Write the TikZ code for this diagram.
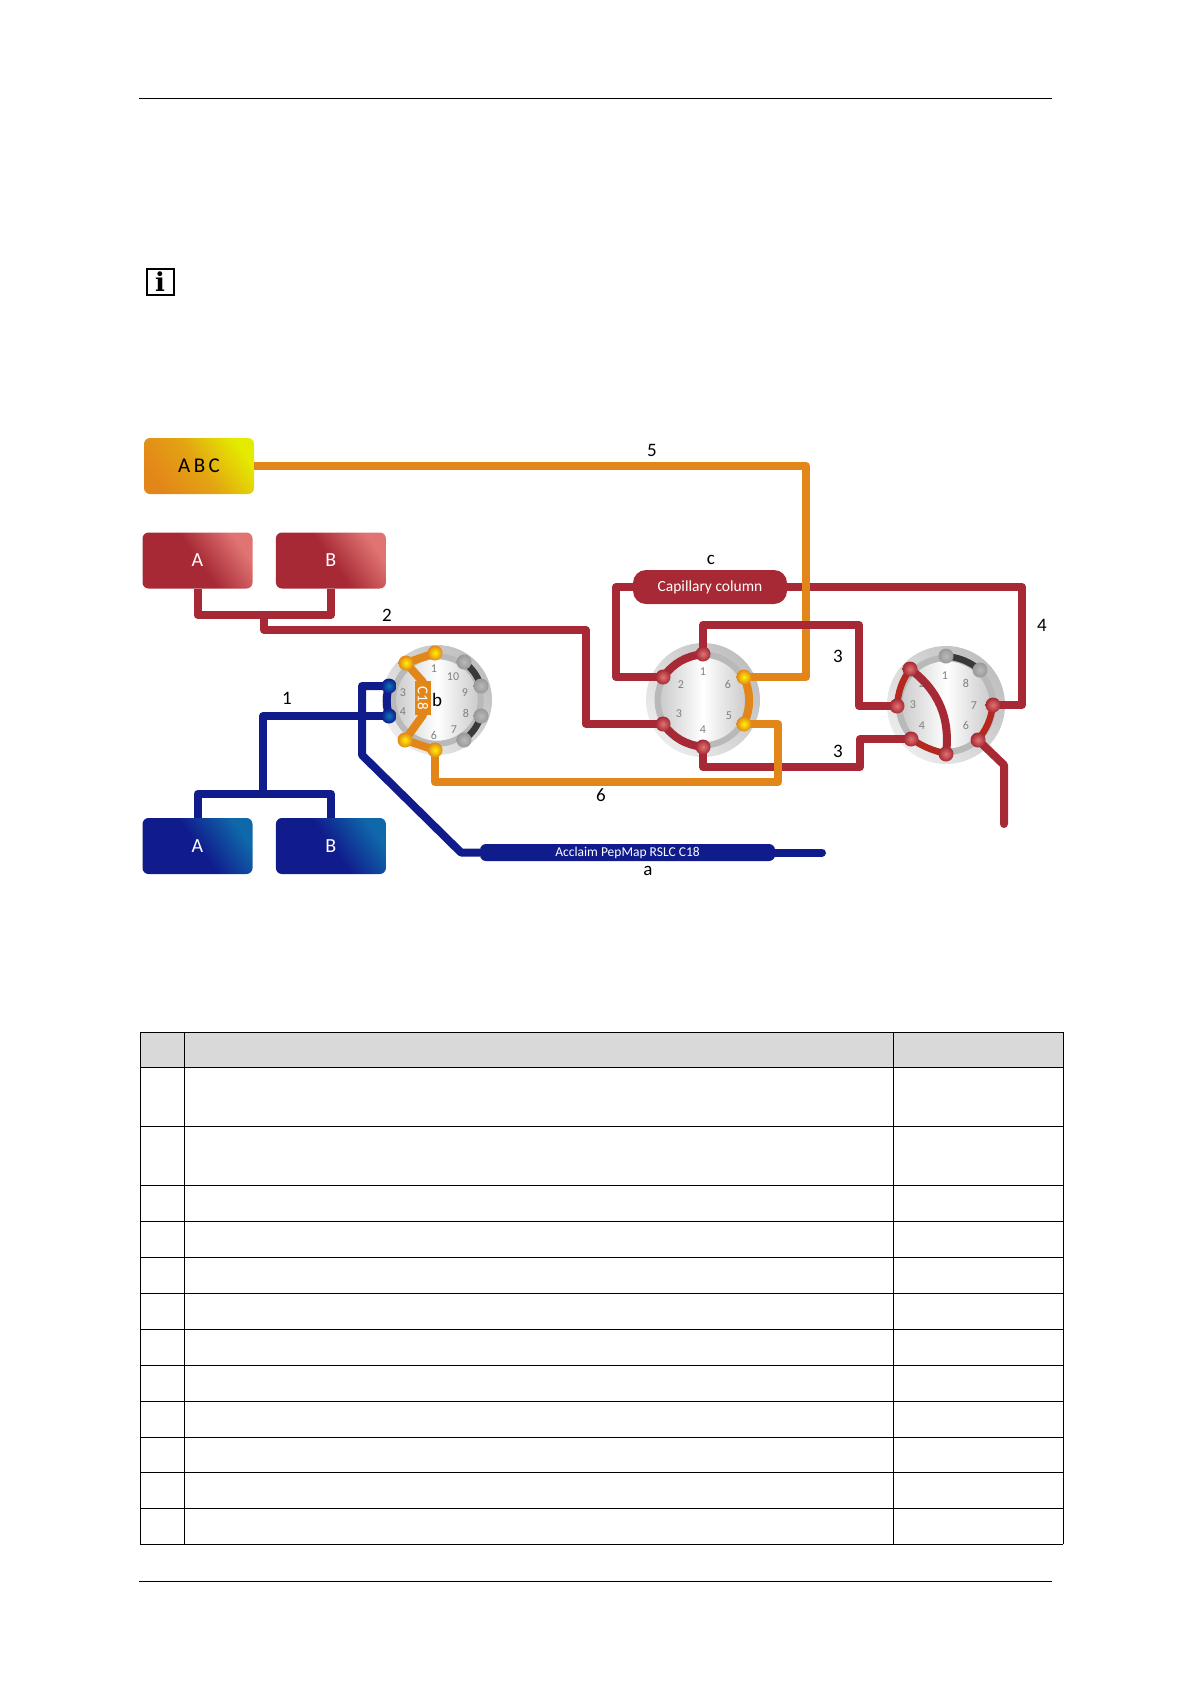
\documentclass[tikz,border=0pt]{standalone}
\usepackage{fontspec}
\setmainfont{Carlito}
\newfontfamily\infofont{DejaVu Serif}
\usepackage{tikz}
\usetikzlibrary{positioning,backgrounds}
\definecolor{hplcred}{HTML}{A62935}
\definecolor{hplclight}{HTML}{E07472}
\definecolor{hplcarc}{HTML}{B4281E}
\definecolor{hplcorange}{HTML}{E3861A}
\definecolor{hplcyellow}{HTML}{E4EA00}
\definecolor{hplcblue}{HTML}{101C8C}
\definecolor{hplccyan}{HTML}{0F68AA}
\definecolor{hplcgray}{HTML}{D9D9D9}
\pgfdeclarelayer{ports}
\pgfsetlayers{main,ports}
\newcommand{\fs}[1]{\fontsize{#1}{#1}\selectfont}

\begin{document}
\begin{tikzpicture}[x=1pt,y=-1pt,
  pipe/.style={line width=8pt,line join=round},
  redpipe/.style={pipe,draw=hplcred},
  arcpipe/.style={line width=6.5pt,draw=hplcarc},
  orangepipe/.style={pipe,draw=hplcorange},
  bluepipe/.style={pipe,draw=hplcblue},
  graylink/.style={line width=6.5pt,draw=gray!45!black},
  pump/.style={rounded corners=6pt,minimum width=110pt,minimum height=56pt,inner sep=0pt,font=\fs{20}},
  redpump/.style={pump,text=white,left color=hplcred,right color=hplclight,middle color=hplcred,shading angle=125},
  bluepump/.style={pump,text=white,left color=hplcblue,right color=hplccyan,middle color=hplcblue,shading angle=125},
  labeltext/.style={font=\fs{19},inner sep=0pt},
  portnum/.style={font=\fs{12},text=gray,inner sep=0pt},
  disc/.style={circle,inner sep=0pt,minimum size=#1},
  port/.style={circle,inner sep=0pt,minimum size=15pt},
  redport/.style={port,inner color=hplclight,outer color=hplcred},
  orangeport/.style={port,inner color=yellow!90!orange,outer color=hplcorange},
  blueport/.style={port,inner color=hplcblue!60!cyan,outer color=hplcblue},
  grayport/.style={port,inner color=gray!55,outer color=gray!80}]
  \useasboundingbox (0,0) rectangle (1191,1684);
  % page rules and info mark
  \coordinate (ruletl) at (139,98); \coordinate (ruletr) at (1052,98);
  \coordinate (rulebl) at (139,1581); \coordinate (rulebr) at (1052,1581);
  \draw[line width=1pt] (ruletl)--(ruletr);
  \draw[line width=1pt] (rulebl)--(rulebr);
  \node[draw,line width=2pt,minimum width=27pt,minimum height=26pt,inner sep=0pt,font=\fs{26}\infofont\bfseries] (info) at (160,282) {i};

  % valve discs
  \foreach \name/\cx/\cy/\rad in {vl/437/700/55,vm/703/700/57,vr/946/705/59}{
    \node[disc=2*\rad*1pt,left color=gray!15,right color=gray!50,shading angle=130] (\name) at (\cx,\cy) {};
    \node[disc=1.7*\rad*1pt,fill=gray!55] at (\cx,\cy) {};
    \node[disc=1.48*\rad*1pt,left color=gray!40,right color=gray!40,middle color=white] at (\cx,\cy) {};
  }
  % port numbers
  \foreach \x/\y/\t in {434/669/1,453/677/10,465/693/9,466/713/8,454/730/7,434/735/6,403/693/3,403/712/4,
    703/672/1,681/685/2,679/714/3,703/730/4,729/716/5,728/684/6,
    945/676/1,966/683/8,974/706/7,966/725/6,922/726/4,913/705/3,922/684/2}
    \node[portnum] at (\x,\y) {\t};

  % ports
  \begin{pgfonlayer}{ports}
    \node[orangeport] (vl2) at (406,663) {};
    \node[orangeport] (vl1) at (435,653) {};
    \node[orangeport] (vl5) at (405,740) {};
    \node[orangeport] (vl6) at (435,750) {};
    \node[blueport] (vl3) at (389,686) {};
    \node[blueport] (vl4) at (389,716) {};
    \node[grayport] (vl10) at (464,662) {};
    \node[grayport] (vl9) at (481,686) {};
    \node[grayport] (vl8) at (481,716) {};
    \node[grayport] (vl7) at (464,740) {};
    \node[redport] (vm1) at (703,654) {};
    \node[redport] (vm2) at (663,677) {};
    \node[redport] (vm3) at (663,724) {};
    \node[redport] (vm4) at (703,747) {};
    \node[orangeport] (vm5) at (744,724) {};
    \node[orangeport] (vm6) at (744,677) {};
    \node[grayport] (vr1) at (946,656) {};
    \node[grayport] (vr8) at (980,670) {};
    \node[redport] (vr2) at (910,669) {};
    \node[redport] (vr3) at (897,706) {};
    \node[redport] (vr4) at (911,739) {};
    \node[redport] (vr5) at (946,754) {};
    \node[redport] (vr6) at (978,740) {};
    \node[redport] (vr7) at (993,705) {};
  \end{pgfonlayer}

  % pumps and columns
  \node[pump,left color=hplcorange,right color=hplcyellow,middle color=hplcorange!70!hplcyellow,shading angle=125,font=\fs{21}] (abc) at (199,466) {A\,B\,C};
  \node[redpump] (redA) at (197.5,560.5) {A};
  \node[redpump,right=23pt of redA] (redB) {B};
  \node[bluepump] (blueA) at (197.5,846) {A};
  \node[bluepump,right=23pt of blueA] (blueB) {B};
  \node[rounded corners=13pt,fill=hplcred,text=white,minimum width=154pt,minimum height=34pt,inner sep=0pt,font=\fs{15.5}] (capillary) at (710,587) {Capillary column};
  \node[rounded corners=6pt,fill=hplcblue,text=white,minimum width=295pt,minimum height=17pt,inner sep=0pt,font=\fs{13.5}] (acclaim) at (627.5,852.5) {Acclaim PepMap RSLC C18};

  % blue flow path
  \coordinate (bluejoin) at (263,794);
  \coordinate (blueturn) at (362,755);
  \coordinate (bluediag) at (461,852.5);
  \coordinate (bluetail) at (822,852.5);
  \draw[bluepipe] (blueA) |- (bluejoin) -| (blueB);
  \draw[bluepipe] (bluejoin) |- (vl4.center);
  \draw[bluepipe] (vl3.center) -| (blueturn) -- (bluediag) -- (acclaim);
  \draw[bluepipe,line cap=round] (acclaim) -- (bluetail);
  \draw[bluepipe] (vl3.center) to[bend right=15] (vl4.center);

  % red flow path
  \coordinate (redjoin) at (264,615);
  \coordinate (redturn) at (586,630);
  \coordinate (capleft) at (616,587);
  \coordinate (capright) at (1022,587);
  \coordinate (exitturn) at (1004,765);
  \coordinate (exitend) at (1004,824);
  \draw[redpipe] (redA) |- (redjoin) -| (redB);
  \draw[redpipe] (redjoin) |- (redturn) |- (vm3.center);
  \draw[redpipe] (capillary) -- (capleft) |- (vm2.center);
  \draw[redpipe] (capillary) -- (capright) |- (vr7.center);
  \draw[redpipe,line cap=round] (vr6.center) -- (exitturn) -- (exitend);
  \draw[redpipe] (vm2.center) to[bend left=22] (vm1.center);
  \draw[redpipe] (vm3.center) to[bend right=22] (vm4.center);
  \draw[arcpipe] (vr3.center) to[bend left=14] (vr2.center);
  \draw[arcpipe] (vr4.center) to[bend right=8] (vr5.center);
  \draw[arcpipe] (vr6.center) to[bend right=14] (vr7.center);
  \draw[redpipe] (vr2.center) to[bend left=30] (vr5.center);

  % orange flow path, crossing order as drawn
  \coordinate (orangeturn) at (806,466);
  \coordinate (orangeback) at (778,782);
  \coordinate (threetop) at (859,625);
  \coordinate (threebot) at (860,767);
  \draw[redpipe] (vm4.center) |- (threebot) |- (vr4.center);
  \draw[orangepipe] (abc) -- (orangeturn) |- (vm6.center);
  \draw[redpipe] (vm1.center) |- (threetop) |- (vr3.center);
  \draw[orangepipe] (vm5.center) -| (orangeback) -| (vl6.center);
  \draw[orangepipe] (vm6.center) to[bend left=22] (vm5.center);
  \draw[orangepipe] (vl1.center) -- (vl2.center) -- (423,682) -- (423,715) -- (vl5.center) -- (vl6.center);
  \node[fill=hplcorange,text=white,minimum width=16pt,minimum height=34pt,inner sep=0pt,font=\fs{15}] (cbig) at (423,698) {\rotatebox{-90}{C18}};
  \draw[graylink] (vl10.center) to[bend left=15] (vl9.center);
  \draw[graylink] (vl8.center) to[bend left=15] (vl7.center);
  \draw[graylink] (vr1.center) to[bend left=15] (vr8.center);

  % labels
  \node[labeltext] (lab1) at (287,698) {1};
  \node[labeltext] (lab2) at (387,615) {2};
  \node[labeltext] (lab3a) at (838,656) {3};
  \node[labeltext] (lab3b) at (838,751) {3};
  \node[labeltext] (lab4) at (1042,625) {4};
  \node[labeltext] (lab5) at (652,450) {5};
  \node[labeltext] (lab6) at (601,795) {6};
  \node[labeltext] (laba) at (648,871) {a};
  \node[labeltext] (labb) at (437,700) {b};
  \node[labeltext] (labc) at (711,560) {c};

  % table grid
  \fill[hplcgray] (140,1032) rectangle (1063,1067);
  \foreach \y in {1032,1067,1126,1185,1221,1257,1293,1329,1365,1401,1437,1472,1508,1544}
    \draw[line width=1pt] (140,\y) -- (1063,\y);
  \foreach \x in {140,184,893,1063}
    \draw[line width=1pt] (\x,1032) -- (\x,1544);
\end{tikzpicture}
\end{document}
